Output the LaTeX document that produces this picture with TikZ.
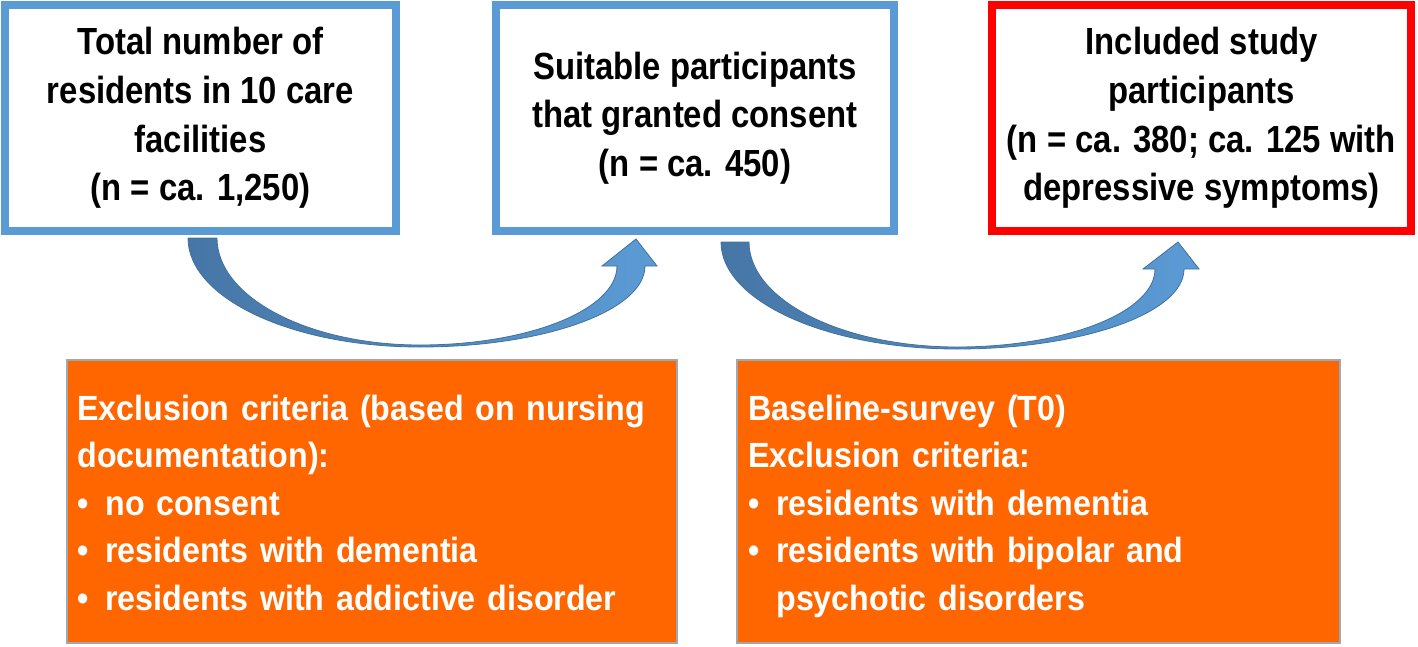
\documentclass[tikz,border=0pt]{standalone}
\usepackage{fontspec}
\setmainfont{Liberation Sans}
\newfontfamily\boxfont{Liberation Sans}[FakeStretch=0.87]
\newfontfamily\orfont{Liberation Sans}[FakeStretch=0.92]
\definecolor{boxblue}{HTML}{5B9BD5}
\definecolor{boxred}{HTML}{FF0000}
\definecolor{orangefill}{HTML}{FF6600}
\definecolor{orangeedge}{HTML}{9FA8B0}
\definecolor{arrowdark}{HTML}{4676A6}
\definecolor{arrowlight}{HTML}{5B9BD5}
\definecolor{arrowedge}{HTML}{41719C}
\tikzset{
  topbox/.style={draw=boxblue, line width=4pt, fill=white, inner sep=0pt,
    align=center, font=\boxfont\fontsize{18.9}{24.3}\selectfont\bfseries},
  redbox/.style={topbox, draw=boxred},
  obox/.style={draw=orangeedge, line width=0.7pt, fill=orangefill, inner sep=0pt},
  otext/.style={text=white, inner sep=0pt, text width=295pt, align=left,
    font=\orfont\fontsize{17.5}{23.75}\selectfont\bfseries},
  curvearrow/.style={draw=arrowedge, line width=0.4pt, left color=arrowdark, right color=arrowlight}
}
\newcommand{\bul}{\makebox[14pt][l]{\textbullet}}
\begin{document}
\begin{tikzpicture}[x=0.5pt, y=-0.5pt]
\useasboundingbox (0,0) rectangle (1418,647);

% top boxes
\node[topbox, minimum width=195.5pt, minimum height=112.5pt] (b1) at (200.5,118)
  {Total number of\\residents in 10 care\\facilities\\(n = ca. 1,250)};
\node[topbox, minimum width=199pt, minimum height=112.5pt] (b2) at (695,118)
  {Suitable participants\\that granted consent\\(n = ca. 450)};
\node[redbox, minimum width=209.5pt, minimum height=112.5pt] (b3) at (1201.5,118)
  {Included study\\participants\\(n = ca. 380; ca. 125 with\\depressive symptoms)};

% orange boxes
\node[obox, minimum width=305pt, minimum height=141.5pt] (o1) at (372,501.5) {};
\node[obox, minimum width=301.5pt, minimum height=141.5pt] (o2) at (1038.5,501.5) {};
\node[otext, anchor=base west] (t1) at (77,420)
  {Exclusion criteria (based on nursing\\documentation):\\\bul no consent\\\bul residents with dementia\\\bul residents with addictive disorder};
\node[otext, anchor=base west] (t2) at (748,420)
  {Baseline-survey (T0)\\Exclusion criteria:\\\bul residents with dementia\\\bul residents with bipolar and\\\hspace*{14pt}psychotic disorders};

% curved arrows
\path[curvearrow]
  (188,238) .. controls (188,298.2) and (291.9,347) .. (420,347)
  .. controls (544.2,347) and (645,310.7) .. (645,266)
  -- (657,266) -- (636,239) -- (602,266) -- (617,266)
  .. controls (617,309.6) and (528.7,345) .. (420,345)
  .. controls (308,345) and (217,297) .. (217,238) -- cycle;
\path[curvearrow]
  (721,242) .. controls (721,301) and (826.7,349) .. (957,349)
  .. controls (1082.3,349) and (1184,313.2) .. (1184,269)
  -- (1199,269) -- (1178,242) -- (1143,269) -- (1155,269)
  .. controls (1155,312) and (1066.3,347) .. (957,347)
  .. controls (842.2,347) and (749,300) .. (749,242) -- cycle;
\end{tikzpicture}
\end{document}
